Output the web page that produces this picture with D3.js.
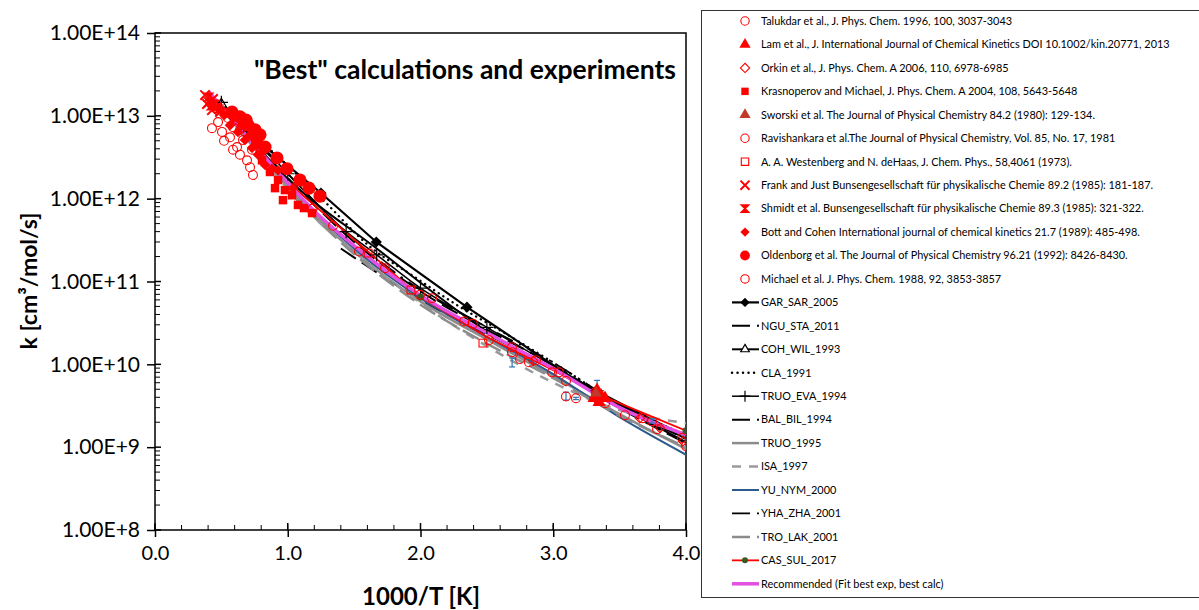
<!DOCTYPE html>
<html>
<head>
<meta charset="utf-8">
<script src="https://cdn.jsdelivr.net/npm/d3@7"></script>
<style>
  body { margin: 0; background: #fff; }
  text { font-family: Lato, "Open Sans", sans-serif; fill: #000; }
</style>
</head>
<body>
<svg id="chart" width="1199" height="610"></svg>
<script>
// ---------- data (x = 1000/T, y = k in cm3/mol/s) ----------
var yTicks = [1e8, 1e9, 1e10, 1e11, 1e12, 1e13, 1e14];
var xTicks = [0, 1, 2, 3, 4];

// experiments
var talukdar = [[2.395,3.1e10],[2.516,1.96e10],[2.689,1.61e10],[2.689,1.40e10],[2.750,1.16e10],[2.817,1.06e10],
  [2.870,1.12e10],[2.991,8.0e9],[3.043,8.0e9],[3.096,6.3e9],[3.096,4.1e9],[3.171,3.9e9],[3.322,4.7e9],[3.337,3.8e9],
  [3.390,3.4e9],[3.540,2.43e9],[3.676,2.24e9],[3.744,2.06e9],[3.782,1.65e9],[3.970,1.29e9],[4.000,1.03e9]];
var lam = [[3.330,4.9e9],[3.360,4.2e9],[3.307,3.9e9],[3.345,3.5e9],[3.390,3.9e9]];
var orkin = [[2.85,1.1e10],[3.322,4.1e9],[3.653,2.24e9],[3.804,1.70e9],[3.977,1.18e9]];
var krasnoperov = [[0.806,2.9e12],[0.866,2.1e12],[0.927,1.68e12],[0.979,1.27e12],[1.032,1.10e12],[1.077,8.4e11],
  [0.964,9.6e11],[0.904,1.34e12],[1.122,7.7e11],[1.183,6.7e11]];
var sworski = [[3.322,4.5e9]];
var ravishankara = [[1.188,7.6e11],[1.341,4.7e11],[1.537,2.3e11],[1.733,1.45e11],[1.996,6.9e10],[2.087,6.3e10],[2.328,3.3e10]];
var westenberg = [[1.605,2.2e11],[1.928,7.9e10],[2.47,1.8e10]];
var frankJust = [[0.377,1.78e13],[0.407,1.47e13],[0.437,1.60e13],[0.467,1.28e13],[0.429,1.17e13],[0.490,1.11e13],[0.392,1.39e13]];
var shmidt = [[0.407,1.69e13],[0.452,1.39e13],[0.422,1.31e13],[0.482,1.21e13]];
var bott = [[0.565,7.7e12],[0.625,6.4e12],[0.678,5.1e12],[0.731,4.1e12],[0.776,3.4e12],[0.829,2.55e12],[0.881,2.3e12],
  [0.475,1.24e13],[0.520,1.02e13],[0.588,9.4e12],[0.655,7.7e12],[0.716,5.9e12],[0.768,4.4e12],[0.814,3.7e12],
  [0.927,2.2e12],[1.040,1.34e12]];
var oldenborg = [[0.580,1.11e13],[0.640,9.7e12],[0.686,8.9e12],[0.701,7.7e12],[0.753,6.8e12],[0.791,5.9e12],[0.768,5.2e12],
  [0.829,4.2e12],[0.919,3.1e12],[0.994,2.3e12],[1.092,1.68e12],[1.160,1.34e12],[1.243,1.07e12]];
var michael = [[0.429,7.1e12],[0.475,8.4e12],[0.542,1.08e13],[0.505,6.4e12],[0.565,5.5e12],[0.618,4.2e12],[0.640,3.4e12],
  [0.693,2.9e12],[0.716,2.4e12],[0.738,1.93e12],[0.663,5.1e12],[0.588,7.3e12],[0.550,9.4e12],[0.610,8.9e12],
  [0.678,6.4e12],[0.731,3.9e12],[0.520,5.0e12],[0.588,3.9e12],[0.640,6.8e12]];
// error bars [x, low, high]
var errBars = [[2.69,9.3e9,1.19e10],[3.096,3.7e9,4.6e9],[3.171,3.75e9,4.0e9],[3.33,5.1e9,6.4e9],[3.744,1.95e9,2.2e9]];

// calculations (third value: 1 = marker drawn)
var garSar = [[0.69,6.5e12,0],[1.25,1.17e12,1],[1.667,3.0e11,1],[2.35,4.9e10,1],[3.33,4.3e9,1],[4.0,1.15e9,0]];
var nguSta = [[0.5,1.41e13],[1.0,1.78e12],[1.5,3.0e11],[2.0,7.6e10],[2.5,2.63e10],[3.0,9.8e9],[3.5,3.16e9],[4.0,1.26e9]];
var cohWil = [[0.5,1.38e13,1],[1.0,1.74e12,0],[1.67,2.5e11,0],[2.5,2.5e10,0],[3.33,4.6e9,1],[4.0,1.26e9,0]];
var cla = [[0.6,9.3e12],[1.0,2.5e12],[1.27,9.5e11],[1.62,2.63e11],[1.95,1.15e11],[2.3,4.9e10],[2.6,2.57e10],
  [3.0,1.05e10],[3.5,3.3e9],[4.0,1.41e9]];
var truoEva = [[0.5,1.45e13,1],[0.67,7.6e12,1],[1.0,2.0e12,1],[1.44,4.0e11,1],[1.67,2.1e11,1],[2.0,8.3e10,1],
  [2.5,2.8e10,1],[3.33,4.8e9,1],[4.0,1.35e9,0]];
var balBil = [[1.4,2.5e11],[1.7,1.2e11],[2.0,6.0e10],[2.5,2.3e10],[3.0,8.9e9],[3.5,2.95e9],[4.0,1.12e9]];
var truo1995 = [[0.5,1.26e13],[1.0,1.38e12],[1.5,2.3e11],[2.0,5.75e10],[2.5,2.0e10],[3.0,7.2e9],[3.5,2.5e9],[4.0,9.5e8]];
var isa1997 = [[0.8,3.16e12],[1.2,5.9e11],[1.5,2.3e11],[2.0,5.5e10],[2.5,1.66e10],[3.0,6.0e9],[3.5,2.8e9],[4.0,1.95e9]];
var yuNym = [[0.5,1.32e13],[1.0,1.51e12],[1.5,2.5e11],[2.0,6.3e10],[2.5,2.14e10],[3.0,7.6e9],[3.5,2.3e9],[4.0,8.1e8]];
var yhaZha = [[0.6,8.9e12],[1.0,2.0e12],[1.5,3.16e11],[2.0,7.9e10],[2.5,2.8e10],[3.0,1.05e10],[3.5,3.3e9],[4.0,1.38e9]];
var troLak = [[1.0,1.26e12],[1.5,2.14e11],[2.0,5.25e10],[2.5,1.78e10],[3.0,6.8e9],[3.5,2.4e9],[4.0,1.0e9]];
var casSul = [[1.0,1.58e12,0],[2.0,6.5e10,1],[2.5,2.14e10,0],[3.0,8.5e9,0],[3.33,4.4e9,1],[4.0,1.58e9,1]];
var recommended = [[0.4,2.0e13],[0.6,8.5e12],[0.8,3.6e12],[1.0,1.55e12],[1.2,7.1e11],[1.5,2.7e11],[2.0,6.8e10],
  [2.5,2.4e10],[3.0,8.9e9],[3.5,3.0e9],[4.0,1.41e9]];

// ---------- chart setup ----------
var svg = d3.select("#chart");
var x = d3.scaleLinear().domain([0, 4]).range([155, 686]);
var y = d3.scaleLog().domain([1e8, 1e14]).range([530, 33]);

// bowtie marker used by Shmidt et al.
var symbolBowtie = {
  draw: function(ctx, size) {
    var s = Math.sqrt(size) / 2;
    ctx.moveTo(-s, -s); ctx.lineTo(s, -s); ctx.lineTo(-s, s); ctx.lineTo(s, s); ctx.closePath();
  }
};

var red = "#ff0000";
var expts = [
  { name: "Talukdar et al., J. Phys. Chem. 1996, 100, 3037-3043", data: talukdar, sym: d3.symbolCircle, size: 62, fill: "none", stroke: red },
  { name: "Lam et al., J. International Journal of Chemical Kinetics DOI 10.1002/kin.20771, 2013", data: lam, sym: d3.symbolTriangle, size: 75, fill: red, stroke: "none" },
  { name: "Orkin et al., J. Phys. Chem. A 2006, 110, 6978-6985", data: orkin, sym: d3.symbolDiamond2, size: 55, fill: "none", stroke: red },
  { name: "Krasnoperov and Michael, J. Phys. Chem. A 2004, 108, 5643-5648", data: krasnoperov, sym: d3.symbolSquare, size: 72, fill: red, stroke: "none" },
  { name: "Sworski et al. The Journal of Physical Chemistry 84.2 (1980): 129-134.", data: sworski, sym: d3.symbolTriangle, size: 60, fill: "#c0392b", stroke: "none" },
  { name: "Ravishankara et al.The Journal of Physical Chemistry, Vol. 85, No. 17, 1981", data: ravishankara, sym: d3.symbolCircle, size: 62, fill: "none", stroke: red },
  { name: "A. A. Westenberg and N. deHaas, J. Chem. Phys., 58,4061 (1973).", data: westenberg, sym: d3.symbolSquare, size: 60, fill: "none", stroke: red },
  { name: "Frank and Just Bunsengesellschaft f\u00fcr physikalische Chemie 89.2 (1985): 181-187.", data: frankJust, sym: d3.symbolTimes, size: 60, fill: "none", stroke: red, sw: 2 },
  { name: "Shmidt et al. Bunsengesellschaft f\u00fcr physikalische Chemie 89.3 (1985): 321-322.", data: shmidt, sym: symbolBowtie, size: 55, fill: red, stroke: red, sw: 1.5 },
  { name: "Bott and Cohen International journal of chemical kinetics 21.7 (1989): 485-498.", data: bott, sym: d3.symbolDiamond2, size: 72, fill: red, stroke: "none" },
  { name: "Oldenborg et al. The Journal of Physical Chemistry 96.21 (1992): 8426-8430.", data: oldenborg, sym: d3.symbolCircle, size: 135, fill: red, stroke: "none", legSize: 75 },
  { name: "Michael et al. J. Phys. Chem. 1988, 92, 3853-3857", data: michael, sym: d3.symbolCircle, size: 62, fill: "none", stroke: red }
];

var models = [
  { name: "GAR_SAR_2005", data: garSar, color: "#000", width: 2.2, curve: d3.curveLinear, mark: { sym: d3.symbolDiamond2, size: 80, fill: "#000", stroke: "none" } },
  { name: "NGU_STA_2011", data: nguSta, color: "#000", width: 2, dash: "18,7" },
  { name: "COH_WIL_1993", data: cohWil, color: "#000", width: 2, mark: { sym: d3.symbolTriangle, size: 45, fill: "#fff", stroke: "#000" } },
  { name: "CLA_1991", data: cla, color: "#000", width: 2.4, dash: "0.1,5.4", cap: "round" },
  { name: "TRUO_EVA_1994", data: truoEva, color: "#000", width: 1.5, mark: { sym: d3.symbolPlus, size: 60, fill: "none", stroke: "#000" } },
  { name: "BAL_BIL_1994", data: balBil, color: "#000", width: 2, dash: "18,7" },
  { name: "TRUO_1995", data: truo1995, color: "#8c8c8c", width: 2.5 },
  { name: "ISA_1997", data: isa1997, color: "#9a9a9a", width: 2.5, dash: "9,8" },
  { name: "YU_NYM_2000", data: yuNym, color: "#2c5a8c", width: 2 },
  { name: "YHA_ZHA_2001", data: yhaZha, color: "#000", width: 1.8, dash: "18,7,2,7" },
  { name: "TRO_LAK_2001", data: troLak, color: "#8c8c8c", width: 2.5, dash: "18,7" },
  { name: "CAS_SUL_2017", data: casSul, color: red, width: 1.8, curve: d3.curveLinear, mark: { sym: d3.symbolCircle, size: 40, fill: "#3b5a20", stroke: "none" } },
  { name: "Recommended (Fit best exp, best calc)", data: recommended, color: "#e34fe0", width: 3.5 }
];

// ---------- axes ----------
svg.append("defs").append("clipPath").attr("id", "plotclip")
  .append("rect").attr("x", x(0)).attr("y", y(1e14)).attr("width", x(4) - x(0)).attr("height", y(1e8) - y(1e14));

// frame
svg.append("rect")
  .attr("x", x(0)).attr("y", y(1e14))
  .attr("width", x(4) - x(0)).attr("height", y(1e8) - y(1e14))
  .attr("fill", "none").attr("stroke", "#000").attr("stroke-width", 1.5);

var yAxis = svg.append("g")
  .attr("transform", "translate(" + x(0) + ",0)")
  .call(d3.axisLeft(y).tickValues(yTicks).tickSize(8).tickPadding(7)
    .tickFormat(function(d) { return d.toExponential(2).toUpperCase(); }));
yAxis.select(".domain").remove();
yAxis.selectAll("line").attr("stroke", "#000").attr("stroke-width", 1.5);
yAxis.selectAll("text").style("font-size", "21px").style("font-family", "Lato, sans-serif");

var xAxis = svg.append("g")
  .attr("transform", "translate(0," + y(1e8) + ")")
  .call(d3.axisBottom(x).tickValues(xTicks).tickSize(7).tickPadding(9)
    .tickFormat(d3.format(".1f")));
xAxis.select(".domain").remove();
xAxis.selectAll("line").attr("stroke", "#000").attr("stroke-width", 1.5);
xAxis.selectAll("text").style("font-size", "20px").style("font-family", "Lato, sans-serif");

// inner ticks
var yMinor = [];
for (var e = 8; e < 14; e++) for (var m = 2; m <= 9; m++) yMinor.push(m * Math.pow(10, e));
svg.append("g").selectAll("line").data(yMinor).enter().append("line")
  .attr("x1", x(0)).attr("x2", x(0) + 5)
  .attr("y1", function(d) { return y(d); }).attr("y2", function(d) { return y(d); })
  .attr("stroke", "#000").attr("stroke-width", 1);
svg.append("g").selectAll("line").data(yTicks).enter().append("line")
  .attr("x1", x(0)).attr("x2", x(0) + 6)
  .attr("y1", function(d) { return y(d); }).attr("y2", function(d) { return y(d); })
  .attr("stroke", "#000").attr("stroke-width", 1.5);
var xMinor = d3.range(0, 4.01, 0.2);
svg.append("g").selectAll("line").data(xMinor).enter().append("line")
  .attr("x1", function(d) { return x(d); }).attr("x2", function(d) { return x(d); })
  .attr("y1", y(1e8)).attr("y2", y(1e8) - 5)
  .attr("stroke", "#000").attr("stroke-width", 1);
svg.append("g").selectAll("line").data(xTicks).enter().append("line")
  .attr("x1", function(d) { return x(d); }).attr("x2", function(d) { return x(d); })
  .attr("y1", y(1e8)).attr("y2", y(1e8) - 7)
  .attr("stroke", "#000").attr("stroke-width", 1.5);

// axis titles
svg.append("text")
  .attr("transform", "translate(37,281) rotate(-90)")
  .attr("text-anchor", "middle")
  .style("font-size", "23px").style("font-weight", "bold")
  .text("k [cm\u00b3/mol/s]");
svg.append("text")
  .attr("x", 421).attr("y", 605)
  .attr("text-anchor", "middle")
  .style("font-size", "24px").style("font-weight", "bold")
  .text("1000/T [K]");

svg.append("text")
  .attr("x", 676).attr("y", 79)
  .attr("text-anchor", "end")
  .style("font-size", "26.5px").style("font-weight", "bold")
  .text("\"Best\" calculations and experiments");

// ---------- series ----------
var plot = svg.append("g").attr("clip-path", "url(#plotclip)");

models.forEach(function(s) {
  var line = d3.line()
    .x(function(d) { return x(d[0]); })
    .y(function(d) { return y(d[1]); })
    .curve(s.curve || d3.curveMonotoneX);
  plot.append("path")
    .attr("d", line(s.data))
    .attr("fill", "none")
    .attr("stroke", s.color)
    .attr("stroke-width", s.width)
    .attr("stroke-dasharray", s.dash || null)
    .attr("stroke-linecap", s.cap || "butt");
});

// error bars
var eb = plot.append("g").attr("stroke", "#2e75b6").attr("stroke-width", 1.2);
errBars.forEach(function(d) {
  eb.append("line").attr("x1", x(d[0])).attr("x2", x(d[0])).attr("y1", y(d[1])).attr("y2", y(d[2]));
  eb.append("line").attr("x1", x(d[0]) - 3).attr("x2", x(d[0]) + 3).attr("y1", y(d[1])).attr("y2", y(d[1]));
  eb.append("line").attr("x1", x(d[0]) - 3).attr("x2", x(d[0]) + 3).attr("y1", y(d[2])).attr("y2", y(d[2]));
});

// model markers
models.forEach(function(s) {
  if (!s.mark) return;
  plot.append("g").selectAll("path")
    .data(s.data.filter(function(d) { return d[2] === 1; }))
    .enter().append("path")
    .attr("transform", function(d) { return "translate(" + x(d[0]) + "," + y(d[1]) + ")"; })
    .attr("d", d3.symbol().type(s.mark.sym).size(s.mark.size))
    .attr("fill", s.mark.fill).attr("stroke", s.mark.stroke).attr("stroke-width", 1.2);
});

// experiments
expts.forEach(function(s) {
  plot.append("g").selectAll("path")
    .data(s.data)
    .enter().append("path")
    .attr("transform", function(d) { return "translate(" + x(d[0]) + "," + y(d[1]) + ")"; })
    .attr("d", d3.symbol().type(s.sym).size(s.size))
    .attr("fill", s.fill).attr("stroke", s.stroke).attr("stroke-width", s.sw || 1.1);
});

// ---------- legend ----------
var leg = svg.append("g");
leg.append("rect")
  .attr("x", 701.5).attr("y", 10.5).attr("width", 520).attr("height", 587)
  .attr("fill", "#fff").attr("stroke", "#333").attr("stroke-width", 1);

var rowH = 23.45, row0 = 21;
expts.forEach(function(s, i) {
  var cy = row0 + i * rowH;
  leg.append("path")
    .attr("transform", "translate(745," + cy + ")")
    .attr("d", d3.symbol().type(s.sym).size(s.legSize || Math.min(s.size, 55)))
    .attr("fill", s.fill).attr("stroke", s.stroke).attr("stroke-width", s.sw || 1.1);
  leg.append("text").attr("x", 761).attr("y", cy).attr("dy", "0.35em")
    .style("font-size", "10.9px").text(s.name);
});
models.forEach(function(s, j) {
  var cy = row0 + (expts.length + j) * rowH;
  leg.append("line")
    .attr("x1", 732).attr("x2", 759).attr("y1", cy).attr("y2", cy)
    .attr("stroke", s.color).attr("stroke-width", s.width)
    .attr("stroke-dasharray", s.dash || null)
    .attr("stroke-linecap", s.cap || "butt");
  if (s.mark) {
    leg.append("path")
      .attr("transform", "translate(745," + cy + ")")
      .attr("d", d3.symbol().type(s.mark.sym).size(s.mark.size * 0.7))
      .attr("fill", s.mark.fill).attr("stroke", s.mark.stroke).attr("stroke-width", 1.2);
  }
  leg.append("text").attr("x", 761).attr("y", cy).attr("dy", "0.35em")
    .style("font-size", "10.9px").text(s.name);
});
</script>
</body>
</html>
